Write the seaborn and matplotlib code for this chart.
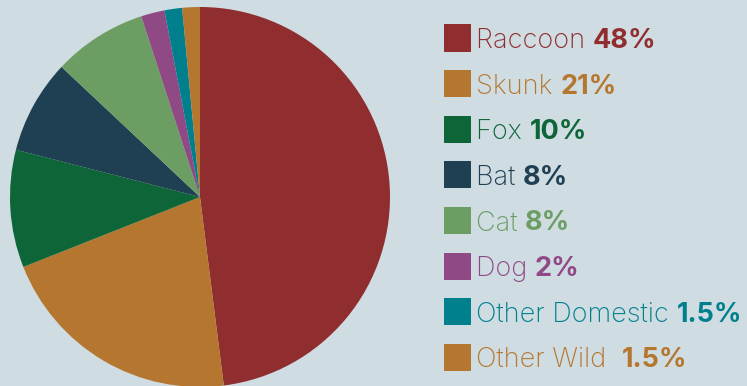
import matplotlib
matplotlib.use("Agg")
import matplotlib.pyplot as plt
import seaborn as sns
from matplotlib.patches import Rectangle

categories = ["Raccoon", "Skunk", "Fox", "Bat", "Cat", "Dog", "Other Domestic", "Other Wild "]
values = [48, 21, 10, 8, 8, 2, 1.5, 1.5]
pct_labels = ["48%", "21%", "10%", "8%", "8%", "2%", "1.5%", "1.5%"]
colors = ["#8f2d2f", "#b5762f", "#0e6638", "#1f3f52", "#6c9e63", "#8f4a86", "#00808c", "#b5762f"]

bg = "#cfdce2"
sns.set_theme(style="white")
plt.rcParams["font.family"] = ["Inter", "DejaVu Sans"]

fig = plt.figure(figsize=(7.47, 3.86), dpi=100)
fig.patch.set_facecolor(bg)

W, H = 747, 386
cx, cy, r = 200, 197, 190
ax = fig.add_axes([(cx - r) / W, (H - cy - r) / H, 2 * r / W, 2 * r / H])
ax.set_facecolor(bg)
ax.pie(values, colors=colors, startangle=90, counterclock=False,
       wedgeprops=dict(linewidth=0))
ax.set_aspect("equal")
ax.set_xlim(-1, 1)
ax.set_ylim(-1, 1)
ax.axis("off")

y0, dy = 38, 45.6
sq = 27
fs = 19.5
for i, (cat, pl, col) in enumerate(zip(categories, pct_labels, colors)):
    yc = y0 + i * dy
    fig.patches.append(Rectangle(((444) / W, (H - yc - sq / 2) / H), sq / W, sq / H,
                                 transform=fig.transFigure, facecolor=col, edgecolor="none"))
    t = fig.text(476 / W, (H - yc) / H, cat + " ", color=col, fontsize=fs,
                 fontweight="light", va="center_baseline", ha="left")
    fig.canvas.draw()
    bb = t.get_window_extent()
    fig.text(bb.x1 / W, (H - yc) / H, pl, color=col, fontsize=fs,
             fontweight="bold", va="center_baseline", ha="left")

fig.savefig("out.png", dpi=100, facecolor=bg)
